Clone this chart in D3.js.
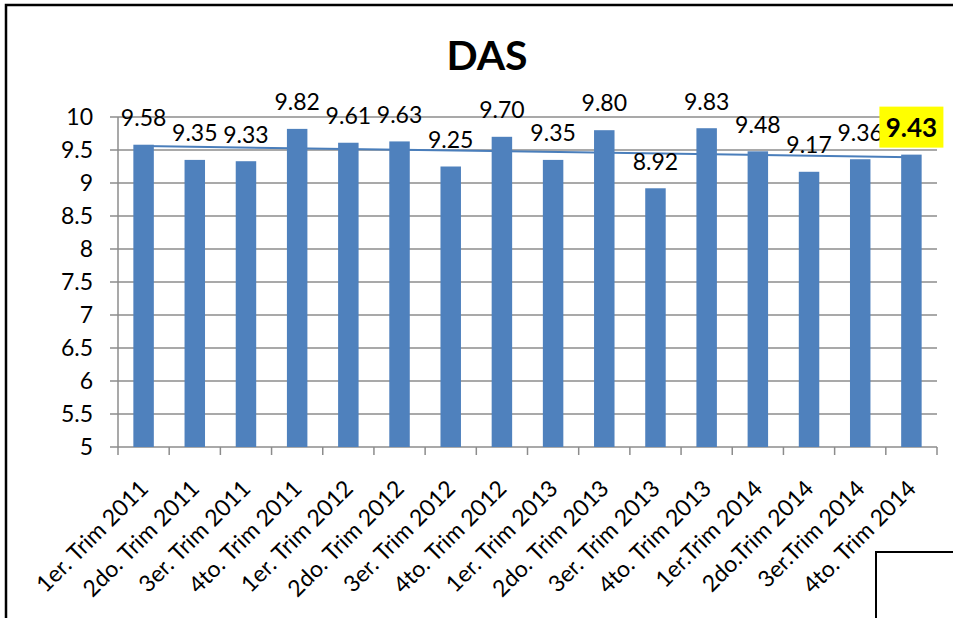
<!DOCTYPE html>
<html>
<head>
<meta charset="utf-8">
<script src="https://cdn.jsdelivr.net/npm/d3@7"></script>
<style>
  body { margin: 0; background: #fff; }
  svg { display: block; font-family: Lato, "Open Sans", sans-serif; }
</style>
</head>
<body>
<svg id="chart" width="953" height="618"></svg>
<script>
var categories = ["1er. Trim 2011", "2do. Trim 2011", "3er. Trim 2011", "4to. Trim 2011",
  "1er. Trim 2012", "2do. Trim 2012", "3er. Trim 2012", "4to. Trim 2012",
  "1er. Trim 2013", "2do. Trim 2013", "3er. Trim 2013", "4to. Trim 2013",
  "1er.Trim 2014", "2do.Trim 2014", "3er.Trim 2014", "4to. Trim 2014"]
var values = [9.58, 9.35, 9.33, 9.82, 9.61, 9.63, 9.25, 9.70, 9.35, 9.80, 8.92, 9.83, 9.48, 9.17, 9.36, 9.43]
var yTicks = [5, 5.5, 6, 6.5, 7, 7.5, 8, 8.5, 9, 9.5, 10]
var highlight = 15 // last quarter label in yellow box

function draw(){
  var svg = d3.select('svg#chart')
  var left = 118, right = 937, top = 117, bottom = 447

  // outer frame (cut off on the right / bottom like the screenshot)
  svg.append('path')
    .attr('d', 'M6,620 L6,5 L960,5')
    .style('fill', 'none').style('stroke', '#000').style('stroke-width', 2.5)

  var x = d3.scaleBand().domain(categories).range([left, right]).paddingInner(0.6).paddingOuter(0.3)
  var y = d3.scaleLinear().domain([5, 10]).range([bottom, top])
  var cx = function(i){return x(categories[i]) + x.bandwidth() / 2}

  // gridlines
  svg.append('g').selectAll('line')
    .data(yTicks)
    .enter().append('line')
    .attr('x1', left - 8).attr('x2', right)
    .attr('y1', function(d){return y(d)}).attr('y2', function(d){return y(d)})
    .style('stroke', '#8c8c8c').style('stroke-width', 1.5)

  // y axis line + labels
  svg.append('line')
    .attr('x1', left).attr('x2', left).attr('y1', top).attr('y2', bottom)
    .style('stroke', '#8c8c8c').style('stroke-width', 1.5)
  svg.append('g').selectAll('text')
    .data(yTicks)
    .enter().append('text')
    .attr('x', 93).attr('y', function(d){return y(d)})
    .attr('dy', '0.36em')
    .attr('text-anchor', 'end')
    .style('font-size', '23px')
    .text(function(d){return d})

  // x ticks
  var step = x.step()
  svg.append('g').selectAll('line')
    .data(d3.range(categories.length + 1))
    .enter().append('line')
    .attr('x1', function(i){return left + i * step}).attr('x2', function(i){return left + i * step})
    .attr('y1', bottom).attr('y2', bottom + 8)
    .style('stroke', '#8c8c8c').style('stroke-width', 1.5)

  // linear trend line (behind bars)
  var n = values.length
  var mx = d3.mean(d3.range(n)), my = d3.mean(values)
  var slope = d3.sum(values, function(v, i){return (i - mx) * (v - my)}) / d3.sum(d3.range(n), function(i){return (i - mx) * (i - mx)})
  var icpt = my - slope * mx
  var trend = d3.line()
    .x(function(i){return cx(i)})
    .y(function(i){return y(icpt + slope * i)})
  svg.append('path')
    .attr('d', trend([0, n - 1]))
    .style('fill', 'none').style('stroke', '#4a7ebb').style('stroke-width', 2)

  // bars
  svg.append('g').selectAll('rect')
    .data(values)
    .enter().append('rect')
    .attr('x', function(d, i){return x(categories[i])})
    .attr('width', x.bandwidth())
    .attr('y', function(d){return y(d)})
    .attr('height', function(d){return bottom - y(d)})
    .style('fill', '#4f81bd')

  // data labels (all but the highlighted one)
  var labels = svg.append('g')
  labels.selectAll('text')
    .data(d3.range(n).filter(function(i){return i !== highlight}))
    .enter().append('text')
    .attr('x', function(i){return cx(i)})
    .attr('y', function(i){return y(values[i]) - 27})
    .attr('dy', '0.36em')
    .attr('text-anchor', 'middle')
    .style('font-size', '23px')
    .text(function(i){return values[i].toFixed(2)})

  // yellow box behind the highlighted label, drawn over the neighbour
  var hv = values[highlight]
  labels.append('rect')
    .attr('x', cx(highlight) - 32).attr('y', y(hv) - 48)
    .attr('width', 64).attr('height', 41)
    .style('fill', '#ffff00')
  labels.append('text')
    .attr('x', cx(highlight)).attr('y', y(hv) - 27)
    .attr('dy', '0.36em')
    .attr('text-anchor', 'middle')
    .style('font-size', '26px').style('font-weight', 'bold')
    .text(hv.toFixed(2))

  // x labels
  svg.append('g').selectAll('text')
    .data(categories)
    .enter().append('text')
    .attr('transform', function(d){return 'translate(' + (x(d) + x.bandwidth() / 2 + 6) + ',' + 490 + ') rotate(-45)'})
    .attr('text-anchor', 'end')
    .style('font-size', '23px')
    .text(function(d){return d})

  // title
  svg.append('text')
    .attr('x', 487).attr('y', 70)
    .attr('text-anchor', 'middle')
    .style('font-size', '41px').style('font-weight', 'bold')
    .text('DAS')

  // stray box in the corner of the screenshot
  svg.append('path')
    .attr('d', 'M876,620 L876,552 L960,552')
    .style('fill', 'none').style('stroke', '#000').style('stroke-width', 2)
}
draw()
</script>
</body>
</html>
